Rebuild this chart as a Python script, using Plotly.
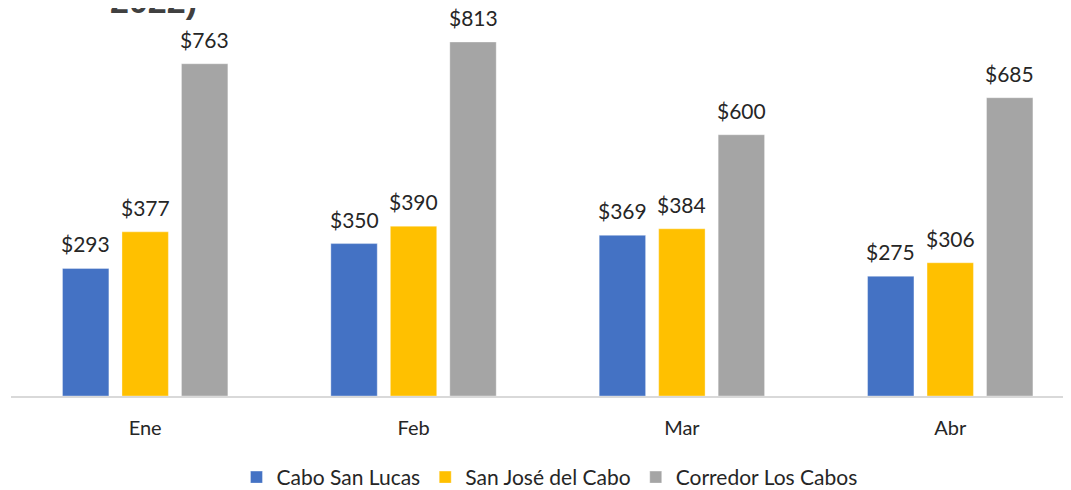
import plotly.graph_objects as go

meses = ["Ene", "Feb", "Mar", "Abr"]
cabo_san_lucas = [293, 350, 369, 275]
san_jose = [377, 390, 384, 306]
corredor = [763, 813, 600, 685]
series = [
    ("Cabo San Lucas", cabo_san_lucas, "#4472C4"),
    ("San José del Cabo", san_jose, "#FFC000"),
    ("Corredor Los Cabos", corredor, "#A5A5A5"),
]

fig = go.Figure()
annotations = []
slot_px = 59.5
for k, (name, vals, color) in enumerate(series):
    fig.add_trace(go.Bar(
        x=meses, y=vals, name=name,
        marker=dict(color=color, line=dict(color="rgba(255,255,255,0.35)", width=1)),
    ))
    for m, v in zip(meses, vals):
        annotations.append(dict(
            x=m, y=v, xref="x", yref="y", text=f"${v}", showarrow=False,
            xanchor="center", yanchor="bottom", yshift=10, xshift=(k - 1) * slot_px,
            font=dict(size=21, family="Lato", color="#262626")))

annotations.append(dict(text="<b>2022)</b>", xref="paper", yref="paper", x=0.125, y=1.0,
                        xanchor="center", yanchor="bottom", yshift=-2, xshift=10,
                        showarrow=False,
                        font=dict(size=34, family="Arial", color="#404040")))

# page body has an 8px margin, so the figure is sized to the visible area
fig.update_layout(
    width=1063, height=482,
    margin=dict(l=3, r=0, t=12, b=94, autoexpand=False),
    paper_bgcolor="white", plot_bgcolor="white",
    barmode="group", bargap=0.335, bargroupgap=0.22,
    font=dict(family="Lato", size=18, color="#262626"),
    xaxis=dict(range=[-0.5, 3.45], showline=True, linecolor="#D9D9D9", linewidth=2,
               ticks="", ticklabelstandoff=13, automargin=False,
               tickfont=dict(size=20, family="Lato", color="#262626")),
    yaxis=dict(range=[0, 863.5], visible=False),
    showlegend=True,
    legend=dict(orientation="h", x=0.508, xanchor="center", yref="container", y=0.026,
                yanchor="middle", font=dict(size=21, family="Lato", color="#262626"),
                traceorder="normal", itemwidth=30),
    annotations=annotations,
)

fig.write_html("out.html")
